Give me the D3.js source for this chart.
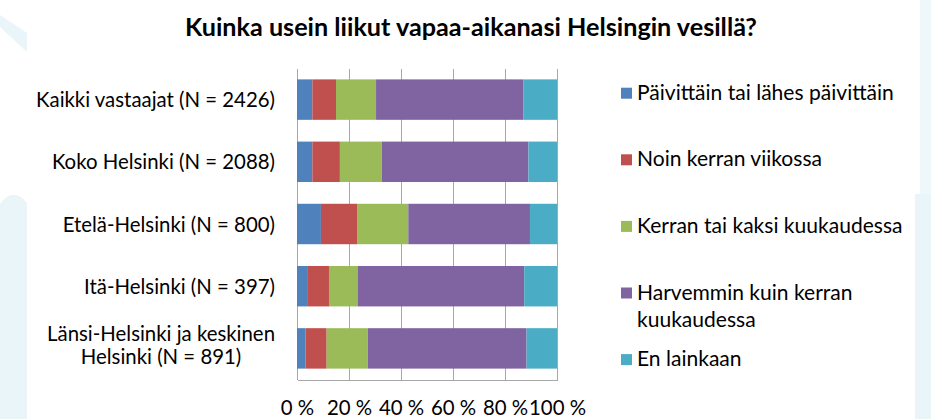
<!DOCTYPE html>
<html><head><meta charset="utf-8">
<script src="https://cdn.jsdelivr.net/npm/d3@7"></script>
<style>body{margin:0;background:#fff;} svg{display:block;font-family:Lato,'Open Sans',sans-serif;}</style>
</head><body><svg id="chart" width="931" height="419"></svg>
<script>
const title = "Kuinka usein liikut vapaa-aikanasi Helsingin vesillä?";
const categories = [
  "Kaikki vastaajat (N = 2426)",
  "Koko Helsinki (N = 2088)",
  "Etelä-Helsinki (N = 800)",
  "Itä-Helsinki (N = 397)",
  "Länsi-Helsinki ja keskinen Helsinki (N = 891)"
];
const seriesNames = [
  "Päivittäin tai lähes päivittäin",
  "Noin kerran viikossa",
  "Kerran tai kaksi kuukaudessa",
  "Harvemmin kuin kerran kuukaudessa",
  "En lainkaan"
];
const daily      = [5.9, 5.9, 9.2, 4.2, 3.3];
const weekly     = [9.1, 10.6, 14.1, 8.1, 8.1];
const monthly    = [15.4, 16.1, 19.5, 11.0, 15.8];
const lessOften  = [56.6, 56.4, 46.8, 64.1, 61.1];
const never      = [13.0, 11.0, 10.4, 12.6, 11.7];
const seriesColors = ["#4F81BD", "#C0504D", "#9BBB59", "#8064A2", "#4BACC6"];
const tickValues = [0, 20, 40, 60, 80, 100];
const tickLabels = ["0 %", "20 %", "40 %", "60 %", "80 %", "100 %"];

const seriesValues = [daily, weekly, monthly, lessOften, never];
const svg = d3.select("#chart");

// background decorations
const deco = "#EAF5F9";
svg.append("polygon").attr("points", "0,15 27,33 27,52 0,27").attr("fill", deco);
svg.append("path").attr("d", "M0,419 V204 Q13,186 27,203 V419 Z").attr("fill", deco);
svg.append("rect").attr("x", 920).attr("y", 0).attr("width", 11).attr("height", 194).attr("fill", "#EEF7FA");
svg.append("rect").attr("x", 915).attr("y", 194).attr("width", 16).attr("height", 225).attr("fill", deco);

function fitSize(str, target, weight) {
  const t = svg.append("text").attr("font-size", 100).attr("font-weight", weight || 400).text(str);
  const w = t.node().getComputedTextLength();
  t.remove();
  return 100 * target / w;
}
const labelSize = fitSize(categories[0], 239);
const legendSize = fitSize(seriesNames[0], 257);
const titleSize = fitSize(title, 572, 700);

const x = d3.scaleLinear().domain([0, 100]).range([297, 557]);
const y = d3.scaleBand().domain(categories).range([68.5, 379.5]).paddingInner(0.35).paddingOuter(0.175);

// title
svg.append("text").attr("x", 471).attr("y", 36).attr("text-anchor", "middle")
  .attr("font-weight", 700).attr("font-size", titleSize).attr("fill", "#000").text(title);

// gridlines + axis
const axis = d3.axisBottom(x).tickValues(tickValues).tickSize(-(379.5 - 68.5)).tickSizeOuter(0)
  .tickFormat((d, i) => tickLabels[i]);
const gAxis = svg.append("g").attr("transform", "translate(0,379.5)").call(axis);
gAxis.selectAll("line").attr("stroke", "#A8A8A8").attr("shape-rendering", "crispEdges");
gAxis.select(".domain").attr("stroke", "#A8A8A8").attr("shape-rendering", "crispEdges");
gAxis.selectAll("text").attr("y", 35).attr("dy", null).attr("font-size", labelSize)
  .attr("font-family", "Lato,'Open Sans',sans-serif").attr("fill", "#000");

// bars
const rows = categories.map((c, i) => {
  const r = { cat: c };
  seriesNames.forEach((s, j) => r[s] = seriesValues[j][i]);
  return r;
});
const stacked = d3.stack().keys(seriesNames)(rows);
svg.append("g").selectAll("g").data(stacked).join("g")
  .attr("fill", (d, i) => seriesColors[i])
  .selectAll("rect").data(d => d).join("rect")
  .attr("x", d => x(d[0])).attr("width", d => x(d[1]) - x(d[0]))
  .attr("y", d => y(d.data.cat)).attr("height", y.bandwidth());

// word wrap helper
function wrap(str, maxW, size) {
  const words = str.split(" ");
  const lines = [];
  let cur = "";
  const t = svg.append("text").attr("font-size", size);
  words.forEach(w => {
    const test = cur ? cur + " " + w : w;
    t.text(test);
    if (t.node().getComputedTextLength() > maxW && cur) { lines.push(cur); cur = w; }
    else cur = test;
  });
  lines.push(cur);
  t.remove();
  return lines;
}
function textW(str, size) {
  const t = svg.append("text").attr("font-size", size).text(str);
  const w = t.node().getComputedTextLength(); t.remove(); return w;
}

// category labels
const catLineH = 22.5;
categories.forEach(c => {
  const lines = wrap(c, 246, labelSize);
  const maxW = d3.max(lines, l => textW(l, labelSize));
  const cx = 275 - maxW / 2;
  const center = y(c) + y.bandwidth() / 2;
  const n = lines.length;
  const base = n === 1 ? 7.5 : 4.2;
  lines.forEach((l, k) => {
    svg.append("text").attr("x", cx).attr("y", center + base + (k - (n - 1) / 2) * catLineH)
      .attr("text-anchor", "middle").attr("font-size", labelSize).attr("fill", "#000").text(l);
  });
});

// legend
const lg = svg.append("g");
seriesNames.forEach((s, i) => {
  const cy = 93.2 + i * 66.6;
  lg.append("rect").attr("x", 621).attr("y", cy - 5.5).attr("width", 11).attr("height", 11).attr("fill", seriesColors[i]);
  const lines = wrap(s, 275, legendSize);
  lines.forEach((l, k) => {
    lg.append("text").attr("x", 637).attr("y", cy + 6.5 + k * 27).attr("font-size", legendSize)
      .attr("fill", "#000").text(l);
  });
});
</script></body></html>
